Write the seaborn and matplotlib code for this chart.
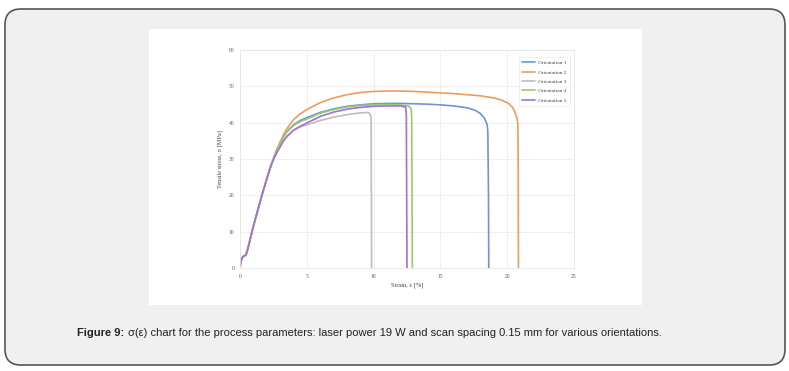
import matplotlib
matplotlib.use("Agg")
import matplotlib.pyplot as plt
import seaborn as sns
import pandas as pd
from matplotlib.patches import FancyBboxPatch, Rectangle

sns.set_theme(style="white")
plt.rcParams['font.family'] = ['Liberation Serif', 'DejaVu Serif']

series_names = ["Orientation 1", "Orientation 2", "Orientation 3", "Orientation 4", "Orientation 5"]
colors = ["#6a95dc", "#f29a5c", "#bdbdbd", "#93cc6a", "#a56fd3"]

init_x = [0, 0.05, 0.15, 0.25, 0.45, 0.6, 0.8, 1.0, 1.3, 1.6, 2.0, 2.3]
init_y = [0, 1.5, 2.8, 3.2, 3.6, 5.5, 8.5, 11.5, 15.5, 19.5, 24.5, 28.0]

o1_x = [2.55, 2.8, 3.0, 3.25, 3.5, 3.75, 4, 4.5, 5, 6, 7, 8, 9, 10, 11, 12, 13, 14, 15, 16, 17, 17.6, 18.0, 18.3, 18.5, 18.55, 18.6, 18.62]
o1_y = [30.6, 32.8, 34.4, 36.1, 37.5, 38.5, 39.4, 40.6, 41.4, 42.8, 43.8, 44.5, 44.9, 45.2, 45.3, 45.3, 45.2, 45.1, 44.9, 44.6, 44.1, 43.4, 42.5, 41.2, 39.5, 37.5, 20.0, 0.0]

o2_x = [2.55, 2.8, 3.0, 3.25, 3.5, 3.75, 4, 4.5, 5, 6, 7, 8, 9, 10, 11, 12, 13, 14, 15, 16, 17, 18, 19, 19.6, 20.1, 20.4, 20.6, 20.75, 20.8, 20.82, 20.84]
o2_y = [30.7, 33.0, 34.7, 36.7, 38.3, 39.6, 40.8, 42.4, 43.6, 45.5, 46.8, 47.7, 48.3, 48.6, 48.7, 48.7, 48.6, 48.4, 48.2, 48.0, 47.7, 47.4, 46.8, 46.2, 45.3, 44.2, 42.8, 41.0, 39.5, 30.0, 0.0]

o3_x = [2.55, 2.8, 3.0, 3.25, 3.5, 4, 4.5, 5, 6, 7, 8, 9, 9.5, 9.7, 9.8, 9.82, 9.85]
o3_y = [30.3, 32.3, 33.7, 35.2, 36.3, 37.9, 38.8, 39.4, 40.6, 41.5, 42.2, 42.7, 42.8, 42.6, 41.5, 38.0, 0.0]

o4_x = [2.55, 2.8, 3.0, 3.25, 3.5, 4, 4.5, 5, 6, 7, 8, 9, 10, 11, 12, 12.6, 12.8, 12.85, 12.9]
o4_y = [30.6, 32.8, 34.4, 36.1, 37.4, 39.2, 40.3, 41.0, 42.6, 43.6, 44.3, 44.7, 44.9, 45.0, 44.9, 44.6, 44.0, 42.0, 0.0]

o5_x = [2.55, 2.8, 3.0, 3.25, 3.5, 4, 4.5, 5, 6, 7, 8, 9, 10, 11, 12, 12.4, 12.45, 12.5]
o5_y = [30.2, 32.0, 33.3, 34.9, 36.1, 37.9, 39.0, 39.9, 41.7, 42.9, 43.7, 44.2, 44.5, 44.6, 44.6, 44.3, 42.0, 0.0]

tails = [(o1_x, o1_y), (o2_x, o2_y), (o3_x, o3_y), (o4_x, o4_y), (o5_x, o5_y)]

rows = []
for name, (tx, ty) in zip(series_names, tails):
    xs = init_x + tx
    ys = init_y + ty
    for x, y in zip(xs, ys):
        rows.append({"Strain": x, "Stress": y, "Orientation": name})
df = pd.DataFrame(rows)

W, H = 789, 371
fig = plt.figure(figsize=(W / 100, H / 100), dpi=100)
fig.patch.set_facecolor("white")

# outer rounded panel
panel = FancyBboxPatch((5 / W, 6 / H), 780 / W, 356 / H,
                       boxstyle="round,pad=0,rounding_size=0.02",
                       transform=fig.transFigure, facecolor="#f0f0f0",
                       edgecolor="#555555", linewidth=1.2, mutation_aspect=W / H,
                       zorder=-3)
fig.patches.append(panel)
# white image area
img = Rectangle((149 / W, 1 - 305 / H), (642 - 149) / W, (305 - 29) / H,
                transform=fig.transFigure, facecolor="white", edgecolor="none",
                zorder=-2)
fig.patches.append(img)

ax = fig.add_axes([240 / W, 1 - 268 / H, 334 / W, 218 / H])
ax.set_zorder(2)
sns.lineplot(data=df, x="Strain", y="Stress", hue="Orientation", palette=colors,
             sort=False, estimator=None, units="Orientation", linewidth=1.2, ax=ax)

ax.set_xlim(0, 25)
ax.set_ylim(0, 60)
ax.set_xticks([0, 5, 10, 15, 20, 25])
ax.set_yticks([0, 10, 20, 30, 40, 50, 60])
ax.tick_params(axis="both", labelsize=4, length=0, pad=4, colors="#555555")
ax.grid(True, color="#ececec", linewidth=0.6)
for s in ax.spines.values():
    s.set_color("#e4e4e4")
    s.set_linewidth(0.6)
ax.set_xlabel("Strain, ε [%]", fontsize=4.5, color="#444444", labelpad=3)
ax.set_ylabel("Tensile stress, σ [MPa]", fontsize=4.5, color="#444444", labelpad=4)

leg = ax.legend(loc="upper right", bbox_to_anchor=(0.995, 0.98), fontsize=3.9,
                frameon=True, handlelength=2.3, handletextpad=0.6,
                labelspacing=0.85, borderpad=0.6)
leg.get_frame().set_edgecolor("#e4e4e4")
leg.get_frame().set_linewidth(0.5)
for t in leg.get_texts():
    t.set_color("#444444")

cap_fam = ["Liberation Sans", "DejaVu Sans"]
t1 = fig.text(77 / W, 1 - 333 / H, "Figure 9:", fontsize=8, fontweight="bold",
              family=cap_fam, va="center", ha="left", color="#222222")
fig.canvas.draw()
bb = t1.get_window_extent()
fig.text((bb.x1 + 4) / W, 1 - 333 / H,
         "σ(ε) chart for the process parameters: laser power 19 W and scan spacing 0.15 mm for various orientations.",
         fontsize=8, family=cap_fam, va="center", ha="left", color="#222222")

fig.savefig("out.png", dpi=100, facecolor="white")
